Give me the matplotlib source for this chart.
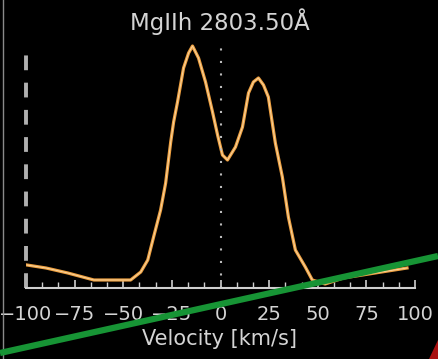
import matplotlib
matplotlib.use("Agg")
import matplotlib.pyplot as plt
from matplotlib.lines import Line2D
from matplotlib.patches import Polygon
from matplotlib.ticker import MultipleLocator

# ---- data ----
velocity = [-99.5, -89.7, -78.5, -65.1, -47.7, -46.2, -41.0, -37.4, -34.4, -30.8,
            -28.2, -25.6, -24.1, -22.1, -19.0, -16.4, -14.4, -11.3, -7.7, -4.1,
            -1.5, 1.0, 3.6, 7.7, 11.3, 14.4, 16.9, 19.5, 22.1, 24.6,
            28.2, 31.8, 34.9, 38.5, 43.6, 47.2, 53.8, 63.1, 79.5, 95.9]
intensity = [23, 20, 15, 8, 8, 8, 16, 28, 51, 78,
             105, 146, 166, 186, 220, 235, 242, 230, 206, 176,
             153, 133, 128, 141, 161, 195, 206, 210, 203, 191,
             145, 111, 71, 38, 21, 8, 4, 10, 15, 20]
title = "MgIIh 2803.50Å"
xlabel = "Velocity [km/s]"
xticks = [-100, -75, -50, -25, 0, 25, 50, 75, 100]

W, H = 438, 359
fig = plt.figure(figsize=(W / 100, H / 100), dpi=100)
fig.patch.set_facecolor("black")

ax = fig.add_axes([26 / W, (H - 288) / H, (415 - 26) / W, (288 - 30) / H])
ax.set_facecolor("black")
ax.set_xlim(-100, 100)
ax.set_ylim(0, 258)

txt = "#d4d4d4"
ax.plot(velocity, intensity, color="#eea040", lw=2.3, solid_joinstyle="round")
ax.plot(velocity, intensity, color="#f8d4a0", lw=0.7, solid_joinstyle="round")

# dotted zero line and dashed left line
ax.plot([0, 0], [0, 243], color="#bbbbbb", lw=1.5, linestyle=(0, (1, 5)))
ax.plot([-100, -100], [0, 236], color="#b0b0b0", lw=2.8, linestyle=(0, (3.8, 3.2)),
        clip_on=False)

for s in ["top", "right", "left"]:
    ax.spines[s].set_visible(False)
ax.spines["bottom"].set_color("#cfcfcf")
ax.spines["bottom"].set_linewidth(1.5)
ax.set_yticks([])
ax.set_xticks(xticks)
ax.set_xticklabels([str(t).replace("-", "\u2212") for t in xticks])
ax.xaxis.set_minor_locator(MultipleLocator(25 / 3))
ax.tick_params(axis="x", which="major", direction="in", length=6, width=1.2,
               color="#cfcfcf", labelcolor=txt, labelsize=14, pad=12)
ax.tick_params(axis="x", which="minor", direction="in", length=4, width=1.0,
               color="#cfcfcf")

fig.text(220 / W, 1 - 22 / H, title, color=txt, fontsize=16.5, ha="center", va="center")
fig.text(219 / W, 1 - 339 / H, xlabel, color=txt, fontsize=15, ha="center", va="center")

# left border line
fig.add_artist(Line2D([3 / W, 3 / W], [0, 1], transform=fig.transFigure,
                      color="#8a8a8a", lw=1.0))
# green overlay stroke
fig.add_artist(Line2D([0, 1], [1 - 353 / H, 1 - 256 / H], transform=fig.transFigure,
                      color="#179435", lw=4.5, solid_capstyle="butt"))
# red glow in the corner
fig.add_artist(Polygon([[1, 1 - 340 / H], [1, 0], [429 / W, 0]], closed=True,
                       transform=fig.transFigure, facecolor="#a81010", edgecolor="none"))

fig.savefig("out.png", dpi=100, facecolor="black")
